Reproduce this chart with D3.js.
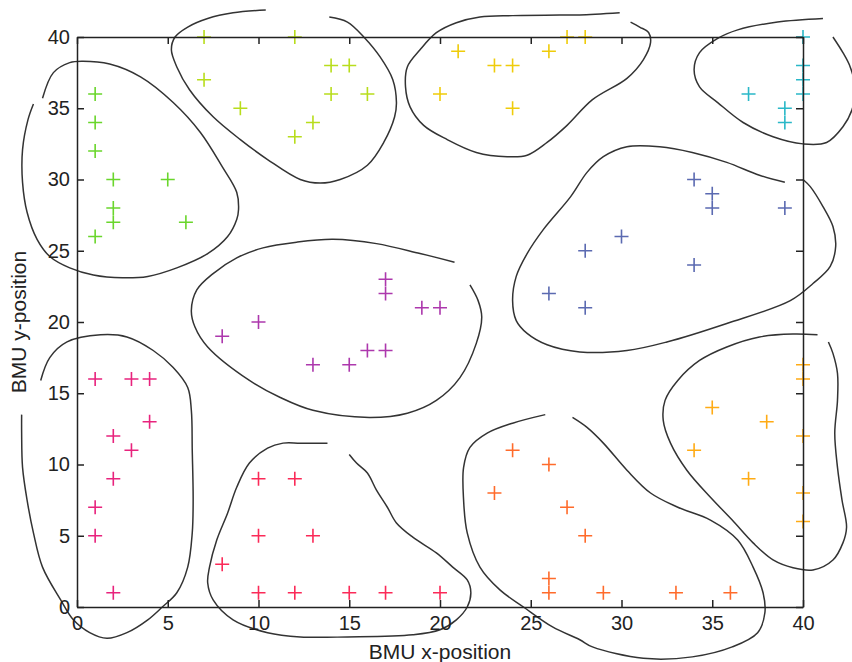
<!DOCTYPE html>
<html>
<head>
<meta charset="utf-8">
<script src="https://cdn.jsdelivr.net/npm/d3@7"></script>
<style>
  body { margin: 0; background: #fff; }
  text { font-family: "Liberation Sans", Arial, sans-serif; fill: #222; }
</style>
</head>
<body>
<script>
// cluster members (BMU x, BMU y)
const green = [[1,36],[1,34],[1,32],[2,30],[5,30],[2,28],[2,27],[6,27],[1,26]];
const lime = [[7,40],[7,37],[9,35],[12,40],[12,33],[13,34],[14,38],[15,38],[14,36],[16,36]];
const yellow = [[21,39],[23,38],[24,38],[20,36],[24,35],[26,39],[27,40],[28,40]];
const cyan = [[40,40],[40,38],[40,37],[40,36],[37,36],[39,35],[39,34]];
const blue = [[34,30],[35,29],[35,28],[39,28],[30,26],[28,25],[34,24],[26,22],[28,21]];
const purple = [[8,19],[10,20],[13,17],[15,17],[16,18],[17,18],[17,22],[17,23],[19,21],[20,21]];
const pink = [[1,16],[3,16],[4,16],[4,13],[2,12],[3,11],[2,9],[1,7],[1,5],[2,1]];
const red = [[8,3],[10,9],[12,9],[10,5],[13,5],[10,1],[12,1],[15,1],[17,1],[20,1]];
const orange = [[24,11],[26,10],[23,8],[27,7],[28,5],[26,2],[26,1],[29,1],[33,1],[36,1]];
const amber = [[40,17],[40,16],[40,12],[40,8],[40,6],[35,14],[38,13],[34,11],[37,9]];

const clusters = [green, lime, yellow, cyan, blue, purple, pink, red, orange, amber];
const colors = ["#6ad62c", "#b8dd1c", "#efcc0a", "#2ab8c8", "#5b6ab1", "#ad38ad", "#e8237d", "#fb2a58", "#ff6b2b", "#ffab14"];

// contour lines around the clusters, data units (they run past the axes)
const contourGreen = [[-1.9,35.7],[-1.3,37.5],[-0.4,38.2],[0.3,38.3],[1.8,38.1],[3.5,37.2],[5.3,35.4],[6.8,33.3],[8.0,30.9],[8.8,29.1],[8.9,27.9],[8.8,27.2],[8.3,26.0],[7.2,24.8],[5.5,23.8],[3.9,23.2],[2.5,23.1],[0.9,23.3],[-0.4,23.8],[-1.5,24.6],[-2.2,25.8],[-2.75,27.7],[-3.0,29.8],[-3.0,32.1],[-2.7,34.2],[-2.4,35.3]];
const contourLime = [[10.4,41.9],[8.6,41.7],[7.2,41.3],[6.1,40.7],[5.4,40.0],[5.2,39.1],[5.5,37.9],[6.2,36.3],[7.5,34.4],[9.0,32.8],[10.5,31.4],[12.3,30.0],[13.4,29.75],[14.5,30.0],[16.0,31.0],[16.9,32.6],[17.5,34.4],[17.6,35.4],[17.4,37.0],[16.7,38.6],[15.8,40.0],[14.9,41.05],[13.9,41.4]];
const contourYellow = [[29.9,41.7],[27.7,41.55],[26.6,41.55],[24.0,41.5],[22.2,41.4],[20.9,41.0],[19.8,40.3],[18.9,39.1],[18.2,37.9],[18.1,36.5],[18.35,35.1],[19.1,33.8],[20.4,32.8],[22.0,31.9],[23.7,31.6],[24.8,31.7],[25.9,32.6],[27.0,33.8],[28.4,35.6],[30.3,37.1],[31.2,38.4],[31.6,39.6],[31.5,40.3],[31.0,40.7],[30.5,41.05]];
const contourCyan = [[41.1,41.3],[38.6,41.05],[36.4,40.5],[35.3,39.9],[34.3,38.9],[34.0,37.7],[34.3,36.5],[35.3,35.4],[36.7,34.0],[38.35,33.0],[40.0,32.5],[41.3,32.6],[42.2,33.7],[42.7,34.9],[42.9,36.3],[42.6,37.9],[42.2,38.9],[41.65,40.0]];
const contourBlue = [[39.0,29.8],[37.6,30.3],[35.8,31.2],[33.9,31.9],[32.1,32.3],[30.3,32.3],[29.0,31.6],[28.1,30.5],[27.2,28.8],[25.7,26.5],[24.8,24.8],[24.2,23.2],[24.0,21.5],[24.2,20.1],[24.8,19.2],[25.9,18.4],[27.7,17.9],[30.3,18.0],[32.5,18.6],[35.8,19.9],[39.3,21.5],[40.55,22.7],[41.5,23.9],[41.8,25.3],[41.65,26.7],[41.1,28.1],[40.4,29.5],[40.0,30.0]];
const contourPurple = [[20.8,24.2],[18.9,24.8],[16.5,25.5],[14.1,25.8],[12.1,25.6],[10.25,25.2],[8.8,24.5],[7.5,23.4],[6.6,22.25],[6.3,20.8],[6.5,19.65],[7.2,18.25],[9.5,15.9],[11.2,14.7],[13.0,13.8],[16.1,13.3],[18.2,13.6],[19.8,14.5],[21.1,16.1],[22.0,18.5],[22.3,20.35],[22.1,21.5],[21.65,22.6]];
const contourPink = [[-2.0,15.9],[-1.5,17.5],[-0.55,18.6],[1.3,19.1],[2.75,18.95],[4.2,18.0],[5.3,16.8],[6.1,15.4],[6.3,13.8],[6.35,11.0],[6.4,7.5],[6.35,5.2],[6.1,2.8],[5.5,1.0],[4.7,0],[3.9,-0.9],[2.75,-1.8],[1.65,-2.2],[0.7,-1.8],[-0.2,-0.9],[-0.9,0.5],[-1.9,2.8],[-2.4,5.2],[-2.75,7.5],[-3.0,9.8],[-3.05,12.2],[-3.05,13.5]];
const contourRed = [[13.8,11.5],[12.3,11.5],[11.35,11.5],[10.5,11.15],[9.5,10.1],[8.8,8.4],[8.3,6.6],[7.7,4.7],[7.3,2.8],[7.2,1.7],[7.5,0.5],[8.6,-0.9],[10.5,-1.8],[12.3,-2.1],[14.9,-2.1],[18.5,-1.95],[20.0,-1.6],[20.9,-0.9],[21.5,0],[21.7,1.0],[21.5,1.9],[20.7,2.8],[19.8,3.8],[18.5,4.9],[17.6,5.9],[17.1,7.0],[16.5,8.2],[16.0,9.4],[15.4,10.1],[15.0,10.7]];
const contourOrange = [[25.8,13.5],[24.0,12.9],[22.6,12.2],[21.65,11.2],[21.3,9.8],[21.3,7.5],[21.5,5.2],[22.2,2.8],[23.3,1.2],[24.6,0],[26.2,-1.4],[27.7,-2.3],[28.4,-2.8],[31.2,-3.6],[33.9,-3.5],[36.1,-2.8],[37.5,-1.8],[37.9,-0.4],[37.8,1.0],[37.25,2.8],[36.4,4.7],[34.9,6.1],[33.1,7.0],[31.6,8.0],[30.3,9.6],[29.0,11.5],[28.1,12.6],[27.3,13.3]];
const contourAmber = [[40.8,19.1],[39.45,19.15],[37.6,18.95],[35.8,18.25],[34.3,17.3],[33.1,15.9],[32.4,14.5],[32.3,13.1],[32.7,11.5],[33.6,9.6],[34.9,7.7],[36.1,6.1],[37.25,4.5],[38.35,3.3],[39.45,2.75],[40.55,2.6],[41.65,3.3],[42.2,4.5],[42.4,5.6],[42.15,7.5],[41.9,9.8],[41.75,12.2],[41.9,14.5],[41.9,16.4],[41.65,17.8],[41.4,18.6]];
const contours = [contourGreen, contourLime, contourYellow, contourCyan, contourBlue, contourPurple, contourPink, contourRed, contourOrange, contourAmber];

const ticks = [0, 5, 10, 15, 20, 25, 30, 35, 40];

const W = 852, H = 662;
const margin = {top: 37, right: 49, bottom: 55, left: 77};
const width = W - margin.left - margin.right;
const height = H - margin.top - margin.bottom;

const svg = d3.select('body').append('svg')
    .attr('width', W).attr('height', H);
const g = svg.append('g')
    .attr('transform', `translate(${margin.left},${margin.top})`);

const x = d3.scaleLinear().domain([0, 40]).range([0, width]);
const y = d3.scaleLinear().domain([0, 40]).range([height, 0]);

// contours
const line = d3.line()
    .x(d => x(d[0])).y(d => y(d[1]))
    .curve(d3.curveCatmullRom.alpha(0.5));

g.selectAll('.contour')
    .data(contours)
    .join('path')
    .attr('class', 'contour')
    .attr('d', line)
    .attr('fill', 'none')
    .attr('stroke', '#333')
    .attr('stroke-width', 1.5);

// markers
clusters.forEach((pts, i) => {
    g.selectAll('.m' + i)
        .data(pts)
        .join('path')
        .attr('class', 'm' + i)
        .attr('transform', d => `translate(${x(d[0])},${y(d[1])})`)
        .attr('d', 'M-7,0H7M0,-7V7')
        .attr('stroke', colors[i])
        .attr('stroke-width', 1.6)
        .attr('fill', 'none');
});

// axes with inward ticks (box)
const styleAxis = sel => {
    sel.selectAll('path, line').attr('stroke', '#222').attr('stroke-width', 1.5);
    sel.selectAll('text').attr('font-size', 20).attr('fill', '#222')
        .attr('font-family', '"Liberation Sans", Arial, sans-serif');
};

g.append('g')
    .attr('transform', `translate(0,${height})`)
    .call(d3.axisBottom(x).tickValues(ticks).tickSize(-7).tickSizeOuter(0).tickPadding(9))
    .call(styleAxis);
g.append('g')
    .call(d3.axisLeft(y).tickValues(ticks).tickSize(-7).tickSizeOuter(0).tickPadding(7))
    .call(styleAxis);
g.append('g')
    .call(d3.axisTop(x).tickValues(ticks).tickSize(-7).tickSizeOuter(0).tickFormat(''))
    .call(styleAxis);
g.append('g')
    .attr('transform', `translate(${width},0)`)
    .call(d3.axisRight(y).tickValues(ticks).tickSize(-7).tickSizeOuter(0).tickFormat(''))
    .call(styleAxis);

// axis titles
g.append('text')
    .attr('x', width / 2).attr('y', height + 52)
    .attr('text-anchor', 'middle')
    .attr('font-size', 21)
    .text('BMU x-position');
g.append('text')
    .attr('transform', `translate(${-51},${height / 2}) rotate(-90)`)
    .attr('text-anchor', 'middle')
    .attr('font-size', 21)
    .text('BMU y-position');
</script>
</body>
</html>
